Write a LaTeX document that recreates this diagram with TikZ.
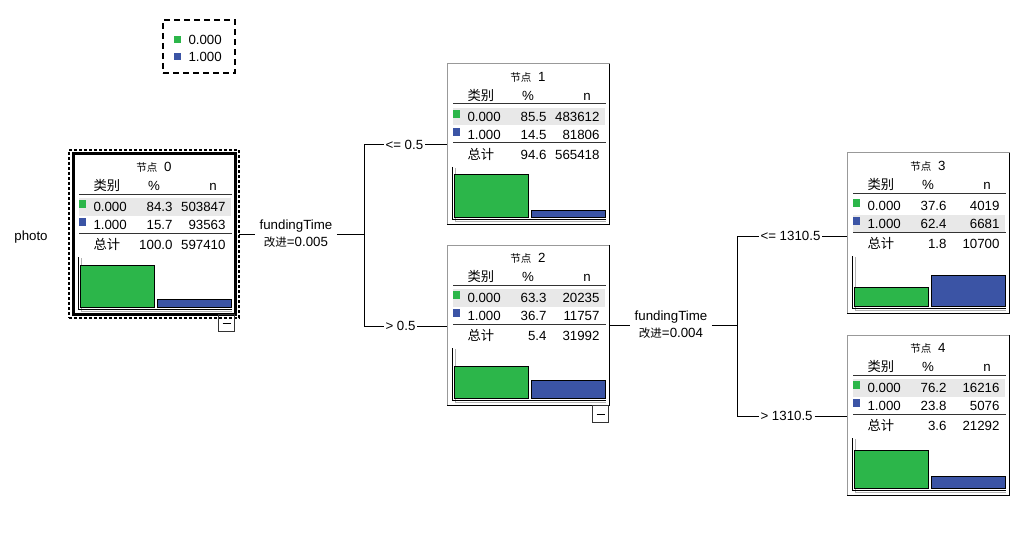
\documentclass[tikz,border=0pt]{standalone}
\usepackage{fontspec}
\setmainfont{Liberation Sans}
\newfontfamily\cjk{Noto Sans CJK SC}
\usetikzlibrary{positioning, fit}

\definecolor{catgreen}{RGB}{44,182,74}
\definecolor{catblue}{RGB}{59,84,165}
\definecolor{rowgrey}{RGB}{232,232,232}

\tikzset{
  txt/.style={inner sep=0pt, text height=9.5pt, text depth=0pt},
  nodebox/.style={draw=black!40, line width=1pt, inner sep=0pt, outer sep=0pt,
    minimum width=162pt, minimum height=160pt, anchor=north west},
  catsq/.style={inner sep=0pt, minimum size=7.5pt},
  bar/.style={draw=black, line width=0.8pt},
  selbox/.style={draw=black, line width=1.6pt, dash pattern=on 3pt off 2pt, outer sep=0pt},
  legbox/.style={draw=black, line width=1.6pt, dash pattern=on 6pt off 4pt,
    minimum width=72pt, minimum height=53pt},
  minusbox/.style={draw=black!80, line width=1pt, inner sep=0pt,
    minimum width=16pt, minimum height=17pt, anchor=north east},
  splitlbl/.style={align=center, inner xsep=4pt, inner ysep=0pt},
  branchlbl/.style={txt, inner xsep=1.5pt, anchor=west},
}

% #1 name, #2 top left, #3 number, #4/#5 row 0.000, #6/#7 row 1.000, #8/#9 total
\newcommand{\spssnode}[9]{%
  \node[nodebox] (#1) at (#2) {};
  \draw[black] (#1.north east) -- (#1.south east) -- (#1.south west);
  \begin{scope}[shift={(#1.north west)}]
    \pgfmathsetmacro\rowtop{#4>#6 ? 44 : 62}
    \fill[rowgrey] (6,\rowtop) rectangle (158,\rowtop+17.5);
    \node[txt] (#1-title) at (81,12.5) {{\cjk\fontsize{10.5}{12}\selectfont 节点}\hspace{0.5em}#3};
    \node[txt, anchor=west] (#1-hc) at (20,32) {\cjk 类别};
    \node[txt] (#1-hp) at (81,32) {\%};
    \node[txt] (#1-hn) at (140,32) {n};
    \draw[black!80] (6,40) -- (159,40);
    \node[catsq, fill=catgreen] (#1-s0) at (9.5,50) {};
    \node[txt, anchor=west] (#1-c0) at (20,53) {0.000};
    \node[txt, anchor=east] (#1-p0) at (100,53) {#4};
    \node[txt, anchor=east] (#1-n0) at (153,53) {#5};
    \node[catsq, fill=catblue] (#1-s1) at (9.5,68) {};
    \node[txt, anchor=west] (#1-c1) at (20,70.5) {1.000};
    \node[txt, anchor=east] (#1-p1) at (100,70.5) {#6};
    \node[txt, anchor=east] (#1-n1) at (153,70.5) {#7};
    \draw[black!80] (6,79) -- (159,79);
    \node[txt, anchor=west] (#1-tc) at (20,91) {\cjk 总计};
    \node[txt, anchor=east] (#1-tp) at (100,91) {#8};
    \node[txt, anchor=east] (#1-tn) at (153,91) {#9};
    \draw[black!30] (8,104) -- (8,157.5) -- (159,157.5);
    \draw[black] (5.5,103) -- (5.5,155) -- (159,155);
    \pgfmathsetmacro\hzero{#4*0.5}
    \pgfmathsetmacro\hone{#6*0.5}
    \draw[bar, fill=catgreen] (7.5,153.5) rectangle (81.5,153.5-\hzero);
    \draw[bar, fill=catblue] (84.5,153.5) rectangle (158,153.5-\hone);
  \end{scope}
}

\begin{document}
\begin{tikzpicture}[x=1pt, y=-1pt, font=\fontsize{13.3}{17}\selectfont, line width=1pt]
\useasboundingbox (0,0) rectangle (1024,548);

% legend
\node[legbox] (legend) at (199,46.5) {};
\node[catsq, fill=catgreen] (lg0) at (177.5,39.5) {};
\node[txt, anchor=west] (lg0t) at (188,40) {0.000};
\node[catsq, fill=catblue] (lg1) at (177.5,56.5) {};
\node[txt, anchor=west] (lg1t) at (188,57) {1.000};

\node[txt] (photo) at (31,236) {photo};

% root
\spssnode{n0}{73,154}{0}{84.3}{503847}{15.7}{93563}{100.0}{597410}
\draw[line width=3pt, black] (n0.north west) rectangle (n0.south east);
\node[selbox, fit=(n0), inner sep=4pt] (sel0) {};
\node[minusbox] (m0) at (n0.south east) {\rule{8pt}{1pt}};

% first split
\node[splitlbl] (sp0) at (296,234) {fundingTime\\{\cjk\fontsize{11.5}{12}\selectfont 改进}=0.005};
\coordinate (br0) at (364,234);
\node[branchlbl] (le0) at (383.5,145) {<= 0.5};
\node[branchlbl] (gt0) at (383.5,326) {> 0.5};

\spssnode{n1}{447,64}{1}{85.5}{483612}{14.5}{81806}{94.6}{565418}
\spssnode{n2}{447,245}{2}{63.3}{20235}{36.7}{11757}{5.4}{31992}
\node[minusbox] (m2) at (n2.south east) {\rule{8pt}{1pt}};

\draw (sel0.east) -- (sp0.west);
\draw (sp0.east) -- (br0);
\draw (br0) |- (le0.west);
\draw (br0) |- (gt0.west);
\draw (le0.east) -- (le0.east -| n1.west);
\draw (gt0.east) -- (gt0.east -| n2.west);

% second split
\node[splitlbl] (sp1) at (671,325) {fundingTime\\{\cjk\fontsize{11.5}{12}\selectfont 改进}=0.004};
\coordinate (br1) at (737,325);
\node[branchlbl] (le1) at (758.5,236) {<= 1310.5};
\node[branchlbl] (gt1) at (758.5,416) {> 1310.5};

\spssnode{n3}{847,153}{3}{37.6}{4019}{62.4}{6681}{1.8}{10700}
\spssnode{n4}{847,335}{4}{76.2}{16216}{23.8}{5076}{3.6}{21292}

\draw (n2.east |- sp1.west) -- (sp1.west);
\draw (sp1.east) -- (br1);
\draw (br1) |- (le1.west);
\draw (br1) |- (gt1.west);
\draw (le1.east) -- (le1.east -| n3.west);
\draw (gt1.east) -- (gt1.east -| n4.west);
\end{tikzpicture}
\end{document}
